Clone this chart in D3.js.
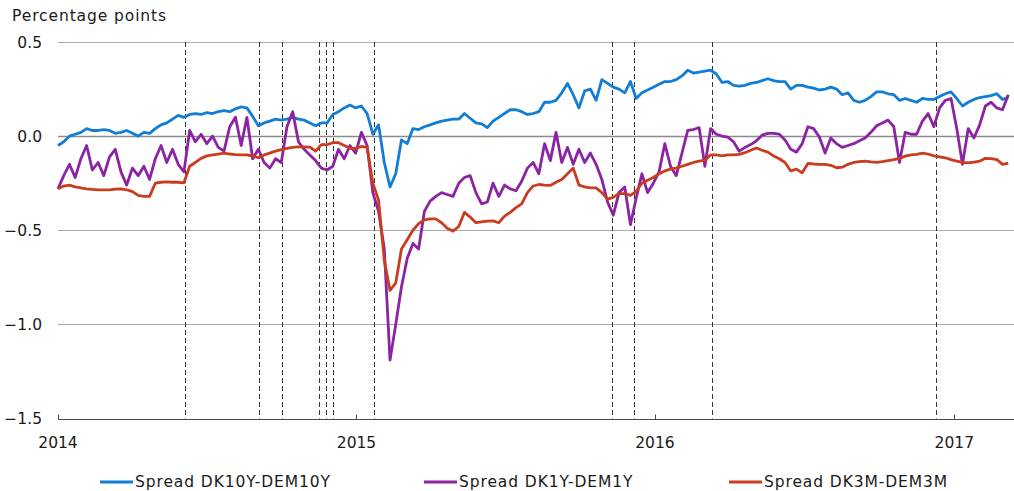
<!DOCTYPE html>
<html lang="en">
<head>
<meta charset="UTF-8">
<title>Spreads</title>
<script src="https://d3js.org/d3.v7.min.js"></script>
<style>
    body { margin: 0; background: #ffffff; overflow: hidden; }
    svg { display: block; font-family: "DejaVu Sans", Verdana, sans-serif; }
    .tick-label { font-size: 15.5px; fill: #1a1a1a; }
    .word-label { font-size: 15.5px; fill: #1a1a1a; letter-spacing: 0.9px; }
</style>
</head>
<body>
<div id="chart"></div>
<script>
// weekly observations starting 2014-01-01
const firstWeek = "2014-01-01";

const spread10y = [
    -0.05, -0.03, 0.0, 0.01, 0.02, 0.04, 0.03, 0.03, 0.035, 0.03,
    0.015, 0.02, 0.03, 0.015, 0.0, 0.02, 0.015, 0.04, 0.06, 0.07,
    0.09, 0.11, 0.10, 0.115, 0.12, 0.115, 0.125, 0.12, 0.13, 0.135,
    0.13, 0.145, 0.155, 0.15, 0.105, 0.055, 0.07, 0.08, 0.09, 0.085,
    0.09, 0.1, 0.09, 0.085, 0.07, 0.055, 0.07, 0.07, 0.115, 0.13,
    0.15, 0.165, 0.15, 0.16, 0.12, 0.01, 0.06, -0.14, -0.27, -0.2,
    -0.02, -0.04, 0.04, 0.035, 0.05, 0.06, 0.07, 0.08, 0.085, 0.09,
    0.09, 0.12, 0.095, 0.07, 0.065, 0.045, 0.08, 0.1, 0.12, 0.14,
    0.14, 0.13, 0.115, 0.12, 0.13, 0.18, 0.18, 0.19, 0.23, 0.28,
    0.22, 0.15, 0.24, 0.25, 0.19, 0.30, 0.28, 0.26, 0.25, 0.23,
    0.29, 0.2, 0.23, 0.245, 0.26, 0.275, 0.29, 0.29, 0.30, 0.32,
    0.35, 0.335, 0.34, 0.345, 0.35, 0.33, 0.285, 0.29, 0.27, 0.265,
    0.27, 0.28, 0.285, 0.295, 0.305, 0.295, 0.29, 0.29, 0.25, 0.27,
    0.27, 0.26, 0.255, 0.245, 0.25, 0.26, 0.25, 0.22, 0.23, 0.19,
    0.18, 0.19, 0.21, 0.235, 0.235, 0.225, 0.22, 0.19, 0.2, 0.19,
    0.18, 0.2, 0.195, 0.195, 0.21, 0.225, 0.235, 0.2, 0.16, 0.18,
    0.195, 0.205, 0.21, 0.215, 0.225, 0.195, 0.205
];

const spread1y = [
    -0.28, -0.21, -0.15, -0.22, -0.12, -0.05, -0.18, -0.14, -0.21, -0.11,
    -0.07, -0.19, -0.26, -0.17, -0.21, -0.16, -0.23, -0.12, -0.05, -0.14,
    -0.07, -0.15, -0.19, 0.03, -0.03, 0.01, -0.04, 0.0, -0.06, -0.08,
    0.05, 0.1, -0.05, 0.1, -0.12, -0.07, -0.14, -0.17, -0.12, -0.14,
    0.05, 0.13, -0.03, -0.07, -0.1, -0.13, -0.17, -0.18, -0.16, -0.07,
    -0.12, -0.05, -0.09, 0.02, -0.05, -0.3, -0.4, -0.6, -1.19, -1.0,
    -0.8, -0.65, -0.57, -0.6, -0.4, -0.345, -0.32, -0.3, -0.31, -0.32,
    -0.25, -0.22, -0.21, -0.3, -0.36, -0.35, -0.25, -0.32, -0.26, -0.28,
    -0.29, -0.24, -0.17, -0.14, -0.2, -0.04, -0.13, 0.02, -0.14, -0.06,
    -0.15, -0.07, -0.14, -0.09, -0.15, -0.23, -0.35, -0.42, -0.3, -0.27,
    -0.47, -0.33, -0.2, -0.3, -0.25, -0.19, -0.04, -0.16, -0.21, -0.09,
    0.03, 0.035, 0.045, -0.16, 0.04, 0.01, 0.0, -0.005, -0.03, -0.08,
    -0.06, -0.045, -0.025, 0.005, 0.015, 0.015, 0.01, -0.02, -0.07, -0.085,
    -0.04, 0.05, 0.04, -0.005, -0.09, -0.01, -0.04, -0.06, -0.05, -0.04,
    -0.025, -0.01, 0.02, 0.055, 0.07, 0.085, 0.05, -0.14, 0.02, 0.01,
    0.01, 0.08, 0.12, 0.05, 0.15, 0.19, 0.2, 0.04, -0.15, 0.04,
    -0.01, 0.06, 0.16, 0.18, 0.15, 0.14, 0.22
];

const spread3m = [
    -0.28, -0.265, -0.26, -0.27, -0.275, -0.28, -0.283, -0.285, -0.285, -0.285,
    -0.282, -0.28, -0.285, -0.295, -0.315, -0.32, -0.32, -0.25, -0.245, -0.243,
    -0.245, -0.245, -0.248, -0.16, -0.14, -0.118, -0.105, -0.1, -0.095, -0.09,
    -0.095, -0.098, -0.1, -0.1, -0.106, -0.115, -0.1, -0.09, -0.08, -0.072,
    -0.065, -0.06, -0.057, -0.057, -0.058, -0.08, -0.045, -0.045, -0.035, -0.035,
    -0.05, -0.065, -0.065, -0.055, -0.06, -0.25, -0.34, -0.66, -0.82, -0.78,
    -0.6, -0.55, -0.5, -0.465, -0.445, -0.44, -0.44, -0.46, -0.49, -0.505,
    -0.48, -0.405, -0.43, -0.46, -0.455, -0.452, -0.45, -0.46, -0.425, -0.405,
    -0.38, -0.36, -0.3, -0.265, -0.257, -0.26, -0.262, -0.245, -0.23, -0.2,
    -0.17, -0.26, -0.27, -0.275, -0.275, -0.3, -0.335, -0.325, -0.305, -0.305,
    -0.315, -0.293, -0.25, -0.235, -0.22, -0.2, -0.185, -0.175, -0.17, -0.16,
    -0.15, -0.14, -0.133, -0.128, -0.1, -0.1, -0.105, -0.1, -0.1, -0.097,
    -0.088, -0.075, -0.063, -0.075, -0.085, -0.105, -0.12, -0.14, -0.185, -0.175,
    -0.195, -0.145, -0.148, -0.15, -0.15, -0.155, -0.168, -0.165, -0.15, -0.14,
    -0.135, -0.133, -0.137, -0.14, -0.135, -0.13, -0.125, -0.118, -0.106, -0.1,
    -0.097, -0.09, -0.095, -0.105, -0.11, -0.115, -0.125, -0.133, -0.14, -0.142,
    -0.138, -0.133, -0.118, -0.12, -0.125, -0.15, -0.143
];

const eventDates = [
    "2014-06-05", "2014-09-04", "2014-10-02", "2014-11-16", "2014-11-25",
    "2014-12-03", "2015-01-22", "2015-11-09", "2015-12-06", "2016-03-11",
    "2016-12-10"
];

const yearTicks = ["2014-01-01", "2015-01-01", "2016-01-01", "2017-01-01"];
const yTicks = [0.5, 0.0, -0.5, -1.0, -1.5];

const seriesNames = ["Spread DK10Y-DEM10Y", "Spread DK1Y-DEM1Y", "Spread DK3M-DEM3M"];
const seriesColors = ["#127dd5", "#8c23a3", "#c93c1e"];

const W = 1014, H = 491;
const margin = { top: 42, right: 0, bottom: 72, left: 58 };
const legendX = [100, 424, 729];

const parse = d3.timeParse("%Y-%m-%d");
const start = parse(firstWeek);
const dates = spread10y.map((_, i) => d3.timeDay.offset(start, 7 * i));

const svg = d3.select("#chart").append("svg")
    .attr("width", W)
    .attr("height", H);

const x = d3.scaleTime()
    .domain([start, parse("2017-03-15")])
    .range([margin.left, W - margin.right]);

const y = d3.scaleLinear()
    .domain([-1.5, 0.5])
    .range([H - margin.bottom - 0.5, margin.top]);

// horizontal grid
svg.append("g").selectAll("line")
    .data(yTicks.filter(v => v > -1.5))
    .join("line")
    .attr("x1", margin.left)
    .attr("x2", W)
    .attr("y1", d => Math.round(y(d)) + 0.5)
    .attr("y2", d => Math.round(y(d)) + 0.5)
    .attr("stroke", d => d === 0 ? "#8c8c8c" : "#ababab")
    .attr("stroke-width", d => d === 0 ? 1.6 : 1);

// y labels
svg.append("g").selectAll("text")
    .data(yTicks)
    .join("text")
    .attr("class", "tick-label")
    .attr("x", 42)
    .attr("y", d => y(d))
    .attr("dy", "0.36em")
    .attr("text-anchor", "end")
    .text(d => d3.format(".1f")(d));

svg.append("text")
    .attr("class", "word-label")
    .attr("x", 12)
    .attr("y", 21)
    .text("Percentage points");

// event lines
svg.append("g").selectAll("line")
    .data(eventDates)
    .join("line")
    .attr("x1", d => Math.round(x(parse(d))) + 0.5)
    .attr("x2", d => Math.round(x(parse(d))) + 0.5)
    .attr("y1", y(0.5))
    .attr("y2", y(-1.5))
    .attr("stroke", "#333")
    .attr("stroke-width", 1)
    .attr("stroke-dasharray", "5,3");

// x axis
const axisY = Math.round(y(-1.5)) + 0.5;
svg.append("line")
    .attr("x1", margin.left).attr("x2", W)
    .attr("y1", axisY).attr("y2", axisY)
    .attr("stroke", "#4a4a4a");

svg.append("g").selectAll("line")
    .data(yearTicks)
    .join("line")
    .attr("x1", d => Math.round(x(parse(d))) + 0.5)
    .attr("x2", d => Math.round(x(parse(d))) + 0.5)
    .attr("y1", axisY - 5)
    .attr("y2", axisY)
    .attr("stroke", "#4a4a4a");

svg.append("g").selectAll("text")
    .data(yearTicks)
    .join("text")
    .attr("class", "tick-label")
    .attr("x", d => x(parse(d)))
    .attr("y", 448)
    .attr("text-anchor", "middle")
    .text(d => d.slice(0, 4));

// series
const line = d3.line()
    .x((d, i) => x(dates[i]))
    .y(d => y(d));

[spread10y, spread1y, spread3m].forEach((vals, k) => {
    svg.append("path")
        .datum(vals)
        .attr("fill", "none")
        .attr("stroke", seriesColors[k])
        .attr("stroke-width", 2.8)
        .attr("stroke-linejoin", "round")
        .attr("d", line);
});

// legend
seriesNames.forEach((name, k) => {
    const lx = legendX[k];
    svg.append("line")
        .attr("x1", lx).attr("x2", lx + 33)
        .attr("y1", 482).attr("y2", 482)
        .attr("stroke", seriesColors[k])
        .attr("stroke-width", 3);
    svg.append("text")
        .attr("class", "word-label")
        .attr("x", lx + 35)
        .attr("y", 487)
        .text(name);
});
</script>
</body>
</html>
